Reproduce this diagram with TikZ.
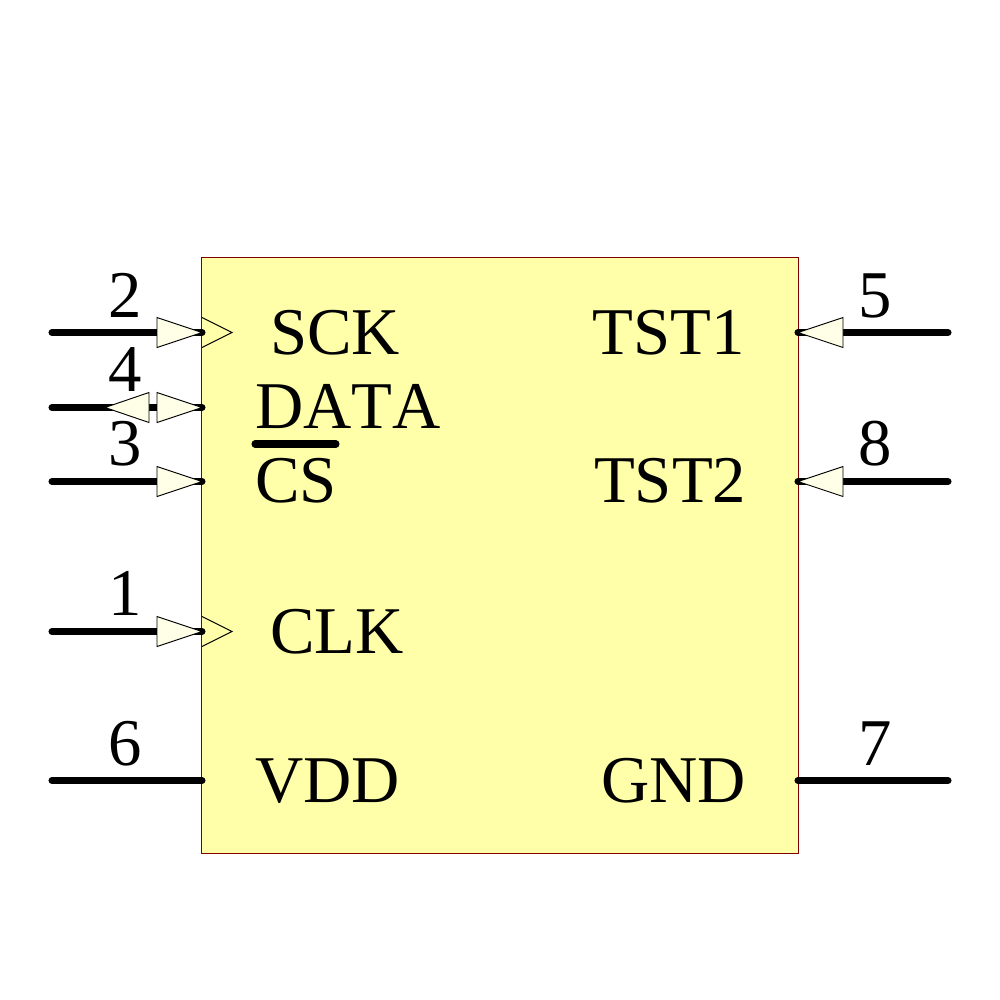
\documentclass[tikz,border=0pt]{standalone}
\usepackage{fontspec}
\setmainfont[Kerning=Off]{Liberation Serif}
\definecolor{chipfill}{HTML}{FFFFAA}
\definecolor{chipline}{HTML}{800000}
\definecolor{arrowfill}{HTML}{FFFFE8}
\tikzset{
  chip/.style={draw=chipline,fill=chipfill,line width=0.7pt},
  wire/.style={line width=6pt,line cap=round,black},
  tri/.style={draw=black,fill=arrowfill,line width=0.8pt,line join=miter},
  clock/.style={draw=black,line width=0.8pt,line join=miter},
  label/.style={inner sep=0pt,font=\fontsize{57pt}{60pt}\selectfont,anchor=base west},
  labelr/.style={inner sep=0pt,font=\fontsize{57pt}{60pt}\selectfont,anchor=base east},
  pinnum/.style={inner sep=0pt,font=\fontsize{57pt}{60pt}\selectfont,anchor=base},
}
\begin{document}
\begin{tikzpicture}[x=0.03cm,y=-0.03cm]
\useasboundingbox (0,0) rectangle (1000,1000);
\draw[chip] (201,257) rectangle (798,853);
% wire ends
\foreach \n/\y in {2/332.5,4/407.5,3/481.5,1/631.5,6/780.5}{
  \coordinate (a\n) at (52,\y);
  \coordinate (b\n) at (202,\y);
  \draw[wire] (a\n) -- (b\n);
}
\foreach \n/\y in {5/332.5,8/481.5,7/780.5}{
  \coordinate (a\n) at (948,\y);
  \coordinate (b\n) at (798,\y);
  \draw[wire] (a\n) -- (b\n);
}
% input triangles
\foreach \n in {2,4,3,1}{
  \draw[tri] (b\n) -- ++(-45,-15) -- ++(0,30) -- cycle;
}
\foreach \n in {5,8}{
  \draw[tri] (b\n) -- ++(45,-15) -- ++(0,30) -- cycle;
}
% bidirectional second triangle
\draw[tri] (105,407.5) -- (149,392.5) -- (149,422.5) -- cycle;
% clock marks
\foreach \n in {2,1}{
  \draw[clock] (b\n)++(0,-15) -- ++(30,15) -- ++(-30,15);
}
% pin numbers
\node[pinnum] (n2) at (125,317.5) {2};
\node[pinnum] (n4) at (125,391.5) {4};
\node[pinnum] (n3) at (125,465.5) {3};
\node[pinnum] (n1) at (125,615.5) {1};
\node[pinnum] (n6) at (125,765.5) {6};
\node[pinnum] (n5) at (875,317.5) {5};
\node[pinnum] (n8) at (875,465.5) {8};
\node[pinnum] (n7) at (875,765.5) {7};
% signal names
\node[label] (sck) at (270,354.3) {SCK};
\node[label] (data) at (255,428.3) {DATA};
\node[label] (cs) at (255,502.3) {CS};
\node[label] (clk) at (270,653.3) {CLK};
\node[label] (vdd) at (255,802.3) {VDD};
\node[labelr] (tst1) at (745,354.3) {TST1};
\node[labelr] (tst2) at (746.5,502.3) {TST2};
\node[labelr] (gnd) at (746,802.3) {GND};
\coordinate (ol) at (255,444);
\coordinate (or) at (336,444);
\draw[wire] (ol) -- (or);
\end{tikzpicture}
\end{document}
